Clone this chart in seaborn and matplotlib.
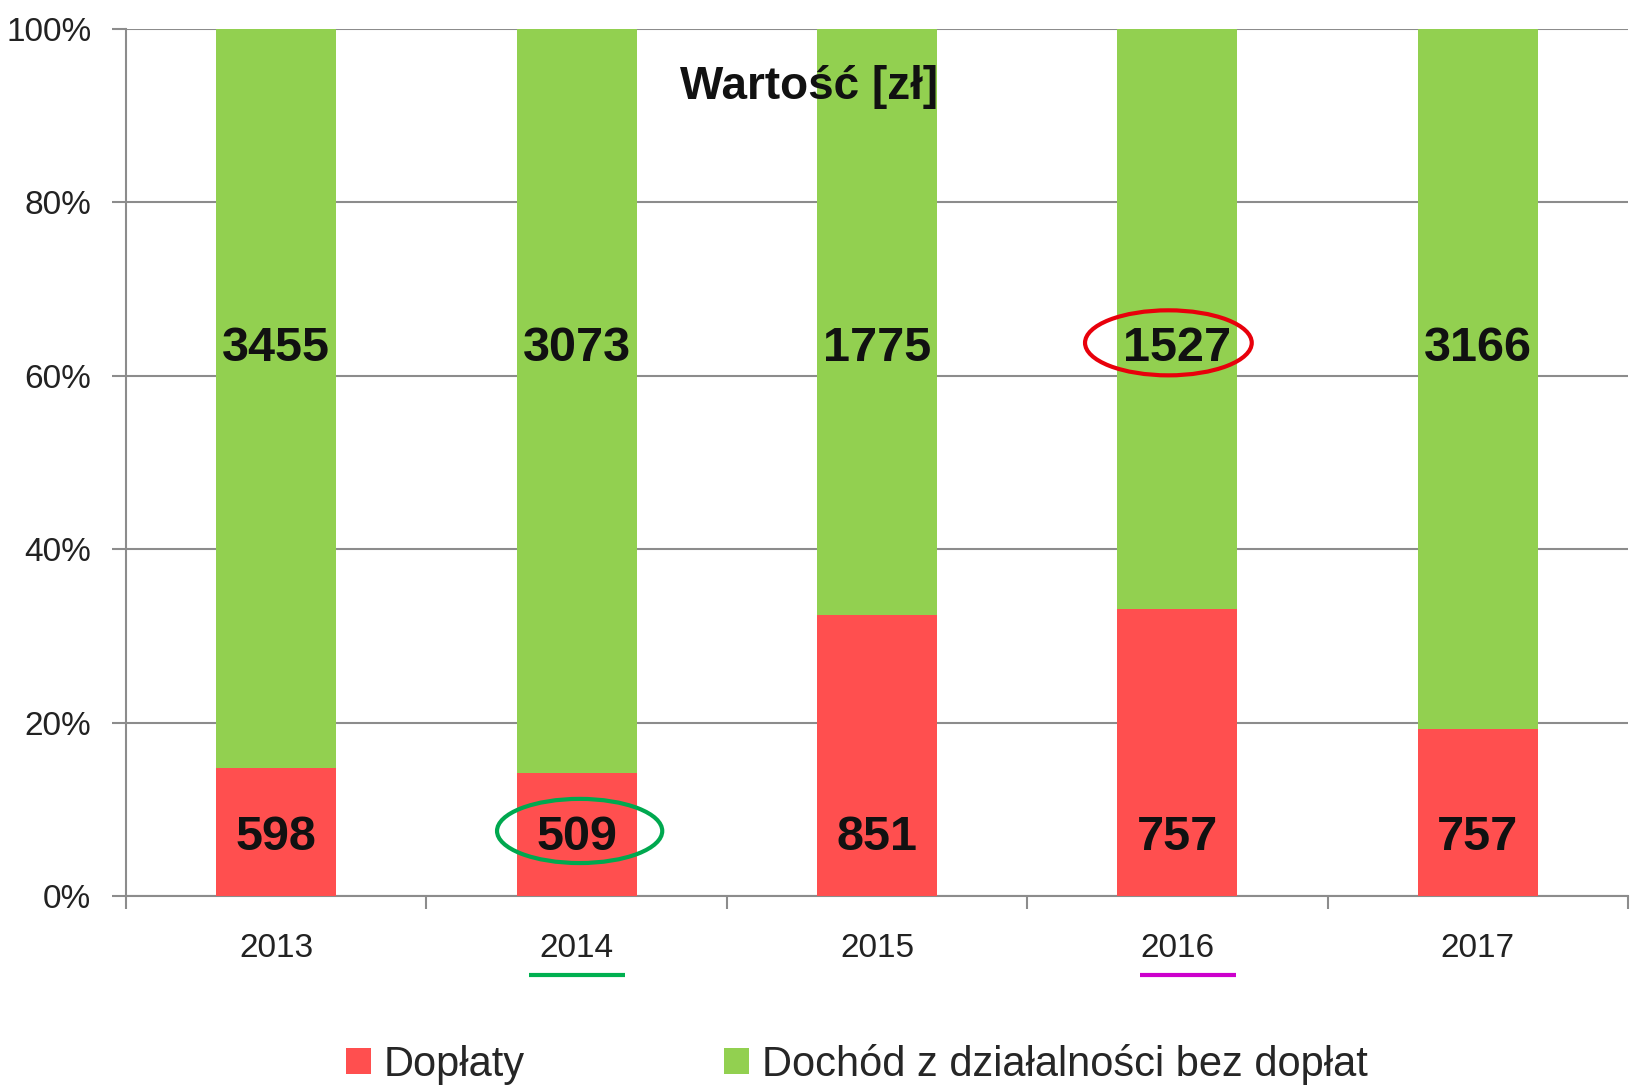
import matplotlib
matplotlib.use("Agg")
import matplotlib.pyplot as plt
from matplotlib.patches import Ellipse, Patch
import matplotlib.transforms as mtransforms
import seaborn as sns
import pandas as pd

# dane z wykresu
years = ["2013", "2014", "2015", "2016", "2017"]
doplaty = [598, 509, 851, 757, 757]
dochod = [3455, 3073, 1775, 1527, 3166]
series_names = ["Dopłaty", "Dochód z działalności bez dopłat"]
title_text = "Wartość [zł]"

RED = "#FF4F4F"
GREEN = "#92D050"
GRID = "#8C8C8C"

df = pd.DataFrame({"rok": years, "doplaty": doplaty, "dochod": dochod})
df["suma"] = df["doplaty"] + df["dochod"]
df["udzial_doplat"] = df["doplaty"] / df["suma"] * 100
df["calosc"] = 100.0

sns.set_style("white")
plt.rcParams["font.family"] = ["Liberation Sans", "DejaVu Sans"]

fig = plt.figure(figsize=(16.35, 10.85), dpi=100)
ax = fig.add_axes([0.0771, 0.1742, 0.9186, 0.7991])

# słupki skumulowane: najpierw całość (zielony), potem dopłaty (czerwony)
sns.barplot(data=df, x="rok", y="calosc", color=GREEN, saturation=1,
            width=0.4, errorbar=None, ax=ax, linewidth=0, zorder=2)
sns.barplot(data=df, x="rok", y="udzial_doplat", color=RED, saturation=1,
            width=0.4, errorbar=None, ax=ax, linewidth=0, zorder=3)

ax.set_xlim(-0.5, len(years) - 0.5)
ax.set_ylim(0, 100)
ax.set_yticks([0, 20, 40, 60, 80, 100])
ax.set_yticklabels([f"{v}%" for v in [0, 20, 40, 60, 80, 100]])
ax.yaxis.grid(True, color=GRID, linewidth=1.5, zorder=0)
ax.set_axisbelow(True)
ax.set_xlabel("")
ax.set_ylabel("")

for side in ["top", "right"]:
    ax.spines[side].set_visible(False)
for side in ["left", "bottom"]:
    ax.spines[side].set_color(GRID)
    ax.spines[side].set_linewidth(1.5)

ax.tick_params(axis="y", which="major", direction="out", length=10, width=1.5,
               color=GRID, pad=15, labelsize=24, labelcolor="#222222", left=True)
ax.tick_params(axis="x", which="major", length=0, pad=27, labelsize=24,
               labelcolor="#222222", bottom=True)
ax.set_xticks([i + 0.5 for i in range(-1, len(years))], minor=True)
ax.tick_params(axis="x", which="minor", direction="out", length=9, width=1.5,
               color=GRID, bottom=True)

# etykiety wartości
for i, (r, g) in enumerate(zip(doplaty, dochod)):
    ax.text(i, 6.7, str(r), ha="center", va="center", fontsize=35,
            fontweight="bold", color="#111111", zorder=5)
    ax.text(i, 63.2, str(g), ha="center", va="center", fontsize=35,
            fontweight="bold", color="#111111", zorder=5)

ax.text(0.455, 0.933, title_text, transform=ax.transAxes, ha="center",
        va="center", fontsize=33, fontweight="bold", color="#111111", zorder=6)

# zaznaczenia
ax.add_patch(Ellipse((years.index("2016") - 0.03, 63.8), 0.555, 7.5,
                     fill=False, edgecolor="#E8000B", linewidth=3, zorder=6,
                     clip_on=False))
ax.add_patch(Ellipse((years.index("2014") + 0.01, 7.5), 0.55, 7.4,
                     fill=False, edgecolor="#00A84F", linewidth=3, zorder=6,
                     clip_on=False))
trans = mtransforms.blended_transform_factory(ax.transData, ax.transAxes)
for yr, col, dx in [("2014", "#00B050", 0.0), ("2016", "#CC00CC", 0.035)]:
    i = years.index(yr) + dx
    ax.plot([i - 0.16, i + 0.16], [-0.091, -0.091], color=col, linewidth=3,
            transform=trans, clip_on=False, solid_capstyle="butt")

handles = [Patch(facecolor=RED, edgecolor="none"), Patch(facecolor=GREEN, edgecolor="none")]
fig.legend(handles, series_names, loc="center", bbox_to_anchor=(0.524, 0.019),
           ncol=2, frameon=False, fontsize=30, handlelength=0.6, handleheight=0.6,
           handletextpad=0.3, columnspacing=4.8)

fig.savefig("out.png", dpi=100)
